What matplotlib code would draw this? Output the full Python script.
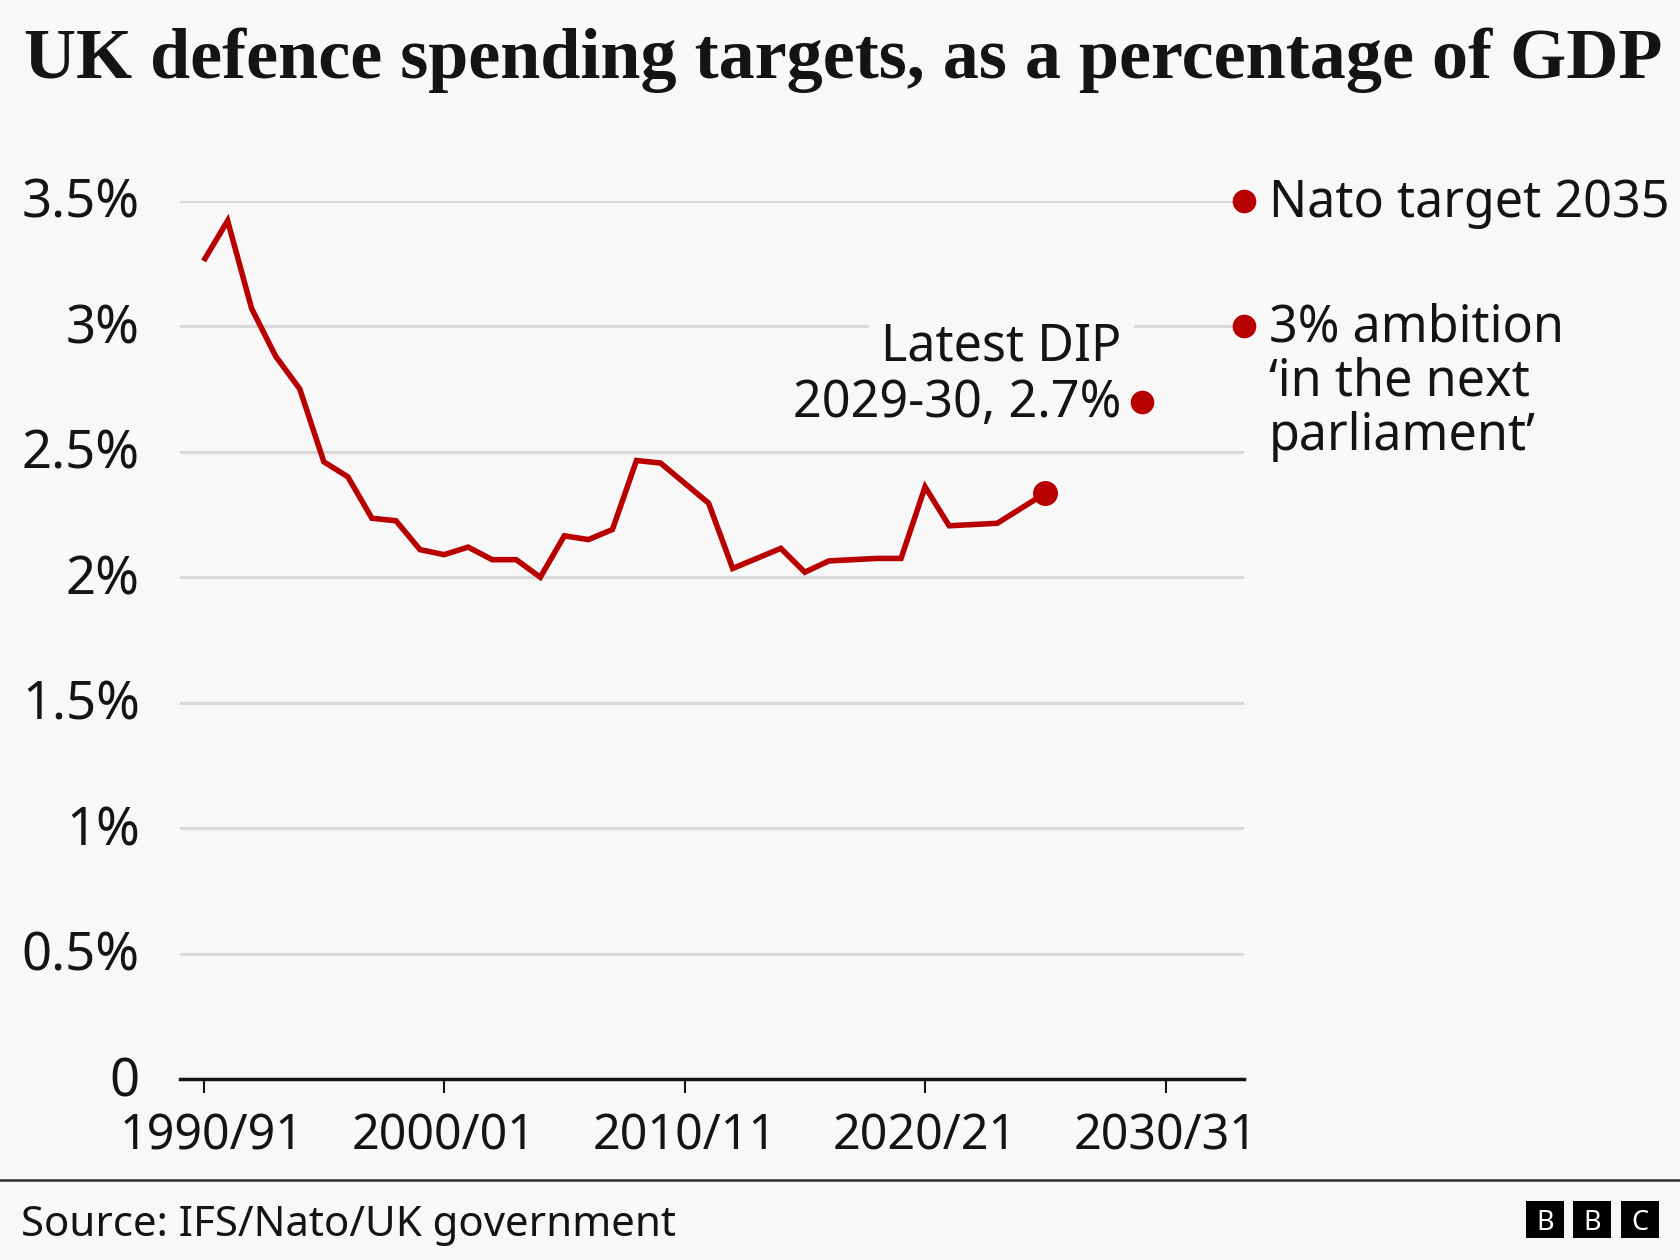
import matplotlib
matplotlib.use("Agg")
import matplotlib.pyplot as plt
from matplotlib.patches import Rectangle
from matplotlib.lines import Line2D
from matplotlib.transforms import ScaledTranslation

# ---------------- data ----------------
years = list(range(1990, 2026))
spending = [3.26, 3.42, 3.07, 2.88, 2.75, 2.46, 2.40, 2.235, 2.225, 2.11,
            2.09, 2.12, 2.07, 2.07, 2.00, 2.165, 2.15, 2.19, 2.465, 2.455,
            2.375, 2.295, 2.035, 2.075, 2.115, 2.02, 2.065, 2.07, 2.075, 2.075,
            2.36, 2.205, 2.21, 2.215, 2.275, 2.335]
dip_year = 2029
dip_value = 2.7
nato_target = 3.5
ambition = 3.0

yticks = [0, 0.5, 1, 1.5, 2, 2.5, 3, 3.5]
ytick_labels = ["0", "0.5%", "1%", "1.5%", "2%", "2.5%", "3%", "3.5%"]
xticks = [1990, 2000, 2010, 2020, 2030]
xtick_labels = ["1990/91", "2000/01", "2010/11", "2020/21", "2030/31"]

title = "UK defence spending targets, as a percentage of GDP"
source = "Source: IFS/Nato/UK government"
nato_label = "Nato target 2035"
ambition_lines = ["3% ambition", "\u2018in the next", "parliament\u2019"]
dip_lines = ["Latest DIP", "2029-30, 2.7%"]

# ---------------- style ----------------
BG = "#f8f8f8"
RED = "#b80000"
INK = "#141414"
GRID = "#d9d9d9"
SANS = "Noto Sans"
SERIF = "Liberation Serif"

W, H = 1680, 1260
DPI = 100
fig = plt.figure(figsize=(W / DPI, H / DPI), dpi=DPI, facecolor=BG)
renderer = fig.canvas.get_renderer()


def fx(px):
    return px / W


def fy(py_from_top):
    return (H - py_from_top) / H


def fit(s, target_px, family, weight="normal", base=40.0):
    t = fig.text(0, 0, s, fontsize=base, family=family, weight=weight)
    w = t.get_window_extent(renderer=renderer).width
    t.remove()
    size = base * target_px / w
    t = fig.text(0, 0, s, fontsize=size, family=family, weight=weight)
    w = t.get_window_extent(renderer=renderer).width
    t.remove()
    return size * target_px / w


title_size = fit(title, 1638, SERIF, "bold")
ytick_size = fit("3.5%", 118, SANS)
xtick_size = fit("1990/91", 184, SANS)
ann_size = fit(nato_label, 400, SANS)
src_size = fit(source, 655, SANS)

# ---------------- axes ----------------
left, right = 180, 1244
top, bottom = 200.7, 1079.3
ax = fig.add_axes([fx(left), fy(bottom), fx(right - left), (bottom - top) / H])
ax.set_facecolor(BG)
ax.set_xlim(1989.02, 2033.26)
ax.set_ylim(0, 3.5)

ax.set_axisbelow(True)
ax.set_yticks(yticks)
ax.set_yticklabels(ytick_labels)
ax.yaxis.grid(True, color=GRID, linewidth=2.3)
ax.xaxis.grid(False)
ax.set_xticks(xticks)
ax.set_xticklabels(xtick_labels)

for side in ["left", "right", "top"]:
    ax.spines[side].set_visible(False)
ax.spines["bottom"].set_color(INK)
ax.spines["bottom"].set_linewidth(2.5)
ax.spines["bottom"].set_zorder(4)

ax.tick_params(axis="y", length=0, pad=28.8, labelsize=ytick_size,
               labelcolor=INK, labelfontfamily=SANS)
ax.tick_params(axis="x", direction="out", length=10, width=1.5, color=INK,
               pad=13, labelsize=xtick_size, labelcolor=INK,
               labelfontfamily=SANS)

# nudge y labels up a little, first x label right (as in the original)
up = ScaledTranslation(0, 3.2 / DPI, fig.dpi_scale_trans)
for lab in ax.get_yticklabels():
    lab.set_transform(lab.get_transform() + up)
xlabs = ax.get_xticklabels()
xlabs[0].set_transform(xlabs[0].get_transform()
                       + ScaledTranslation(8 / DPI, 0, fig.dpi_scale_trans))

# main line
ax.plot(years, spending, color=RED, linewidth=4.0, solid_joinstyle="miter",
        solid_capstyle="butt", zorder=5)
ax.plot([years[-1]], [spending[-1]], "o", color=RED, ms=18, mec="none",
        zorder=6)

# DIP point
ax.plot([dip_year], [dip_value], "o", color=RED, ms=17, mec="none", zorder=6,
        clip_on=False)
ax.annotate(dip_lines[0], xy=(dip_year, dip_value), xycoords="data",
            xytext=(-20, 41), textcoords="offset pixels", ha="right",
            va="baseline", fontsize=ann_size, family=SANS, color=INK,
            zorder=7,
            bbox=dict(boxstyle="square,pad=0.25", fc=BG, ec="none"))
ax.annotate(dip_lines[1], xy=(dip_year, dip_value), xycoords="data",
            xytext=(-20, -15), textcoords="offset pixels", ha="right",
            va="baseline", fontsize=ann_size, family=SANS, color=INK,
            zorder=7)

# right-edge targets
xmax = ax.get_xlim()[1]
ax.plot([xmax, xmax], [nato_target, ambition], "o", color=RED, ms=17,
        mec="none", zorder=6, clip_on=False, linestyle="none")
ax.annotate(nato_label, xy=(xmax, nato_target), xycoords="data",
            xytext=(25, -16), textcoords="offset pixels", ha="left",
            va="baseline", fontsize=ann_size, family=SANS, color=INK,
            annotation_clip=False)
for i, line in enumerate(ambition_lines):
    ax.annotate(line, xy=(xmax, ambition), xycoords="data",
                xytext=(25, -15 - 54.5 * i), textcoords="offset pixels",
                ha="left", va="baseline", fontsize=ann_size, family=SANS,
                color=INK, annotation_clip=False)

# ---------------- title / footer ----------------
fig.text(fx(24), fy(78.3), title, fontsize=title_size, family=SERIF,
         weight="bold", color=INK, ha="left", va="baseline")

fig.add_artist(Line2D([0, 1], [fy(1179.5), fy(1179.5)], color="#333333",
                      linewidth=1.8, transform=fig.transFigure))
fig.text(fx(21.4), fy(1235.5), source, fontsize=src_size, family=SANS,
         color=INK, ha="left", va="baseline")

for i, letter in enumerate("BBC"):
    x0 = 1526 + 47.3 * i
    fig.add_artist(Rectangle((fx(x0), fy(1238.3)), fx(38), 37.6 / H,
                             transform=fig.transFigure, facecolor="black",
                             edgecolor="none"))
    fig.text(fx(x0 + 19), fy(1219.5), letter, fontsize=19.5, family=SANS,
             weight="bold", color="white", ha="center", va="center_baseline")

fig.savefig("out.png", dpi=DPI, facecolor=BG)
